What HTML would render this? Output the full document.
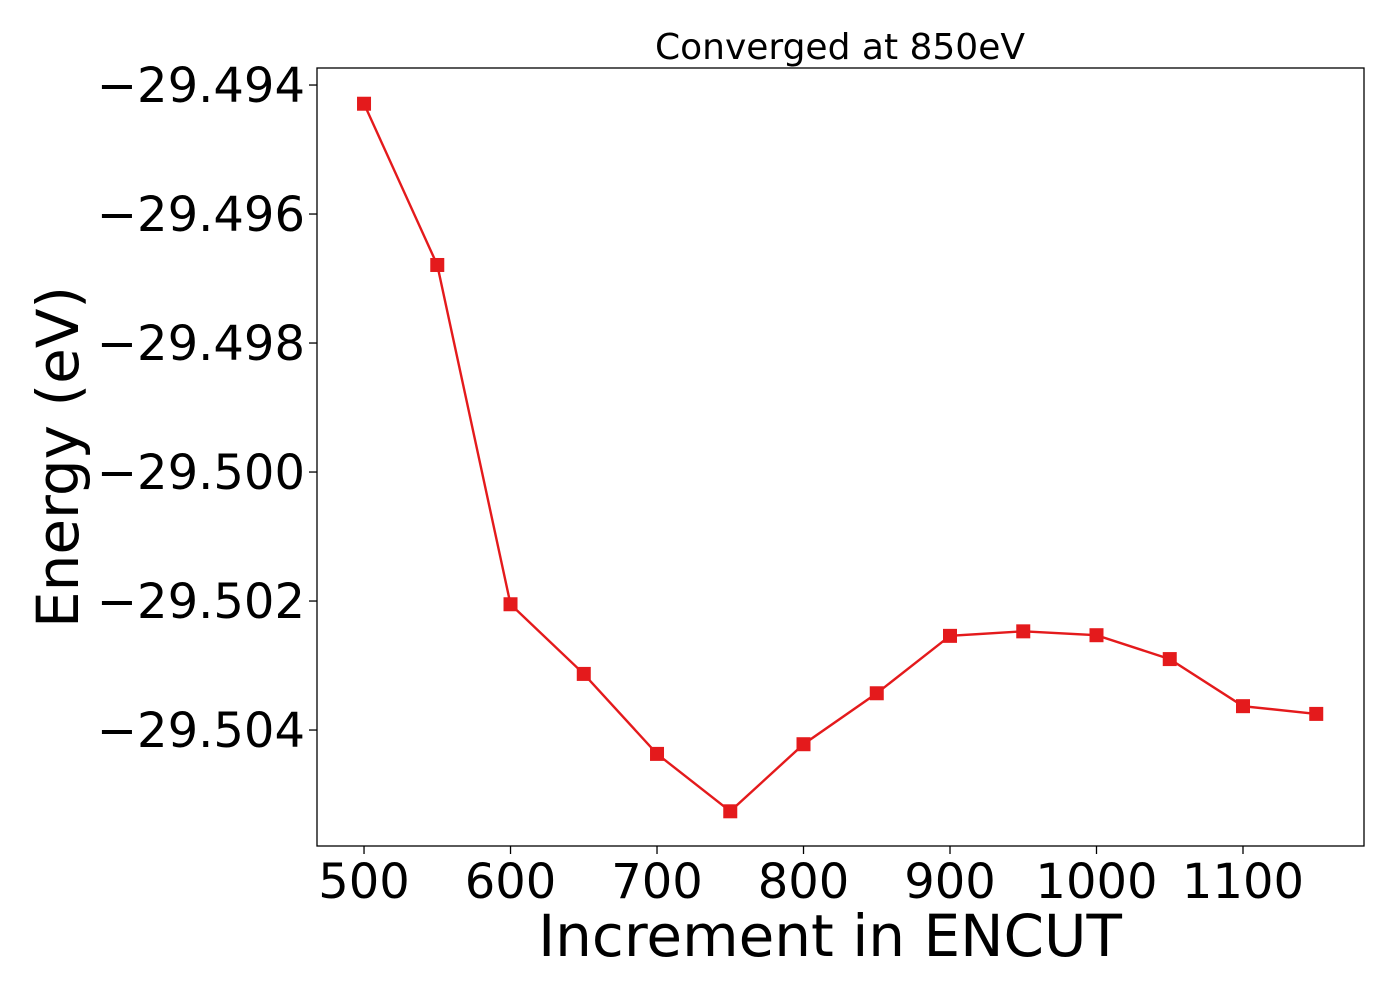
<!DOCTYPE html>
<html><head><meta charset="utf-8"><style>
html,body{margin:0;padding:0;background:#fff;}
svg{display:block;font-family:"DejaVu Sans","Liberation Sans",sans-serif;}
</style></head><body>
<svg id="chart" width="1400" height="1000">
<text x="840" y="59" font-size="36" text-anchor="middle">Converged at 850eV</text>
<text x="830" y="956" font-size="58" text-anchor="middle">Increment in ENCUT</text>
<text transform="translate(78,457) rotate(-90)" font-size="58" text-anchor="middle">Energy (eV)</text>
<g id="xticks"></g>
<g id="yticks"></g>
<g id="series"></g>
<rect x="317" y="68" width="1047" height="778" fill="none" stroke="#000" stroke-width="1.3"/>
</svg>
<script>
const encut = [500,550,600,650,700,750,800,850,900,950,1000,1050,1100,1150];
const energy = [-29.49429,-29.49679,-29.50205,-29.50313,-29.50437,-29.50526,-29.50422,-29.50343,-29.50254,-29.50247,-29.50253,-29.50290,-29.50363,-29.50375];
const xTicks = [500,600,700,800,900,1000,1100];
const yTicks = [-29.494,-29.496,-29.498,-29.500,-29.502,-29.504];
const yTickLabels = ["\u221229.494","\u221229.496","\u221229.498","\u221229.500","\u221229.502","\u221229.504"];

const L=317,R=1364,T=68,B=846;
const xMin=467.9,xMax=1182.6,yMin=-29.505798,yMax=-29.493736;
const sx=v=>L+(v-xMin)/(xMax-xMin)*(R-L);
const sy=v=>B-(v-yMin)/(yMax-yMin)*(B-T);
const NS="http://www.w3.org/2000/svg";
function mk(tag,attrs,parent){const e=document.createElementNS(NS,tag);for(const k in attrs)e.setAttribute(k,attrs[k]);parent.appendChild(e);return e;}
const gx=document.getElementById('xticks'),gy=document.getElementById('yticks'),gs=document.getElementById('series');
xTicks.forEach(v=>{
  const l=mk('line',{x1:sx(v),x2:sx(v),y1:B,y2:B+8,stroke:'#000','stroke-width':1.3},gx);
  
  
  const t=mk('text',{x:sx(v),y:B+52,'font-size':48,'text-anchor':'middle'},gx);
  t.textContent=String(v);
  
  
});
yTicks.forEach((v,i)=>{
  const l=mk('line',{x1:L-8,x2:L,y1:sy(v),y2:sy(v),stroke:'#000','stroke-width':1.3},gy);
  
  
  const t=mk('text',{x:L-12,y:sy(v)+17,'font-size':48,'text-anchor':'end'},gy);
  t.textContent=yTickLabels[i];
  
  
});
const pts=encut.map((x,i)=>sx(x)+','+sy(energy[i])).join(' ');
const pl=mk('polyline',{points:pts,fill:'none',stroke:'#e41a1c','stroke-width':2.4},gs);


encut.forEach((x,i)=>{
  const r=mk('rect',{x:sx(x)-7,y:sy(energy[i])-7,width:14,height:14,fill:'#e41a1c'},gs);
  
  
});
</script>
</body></html>
